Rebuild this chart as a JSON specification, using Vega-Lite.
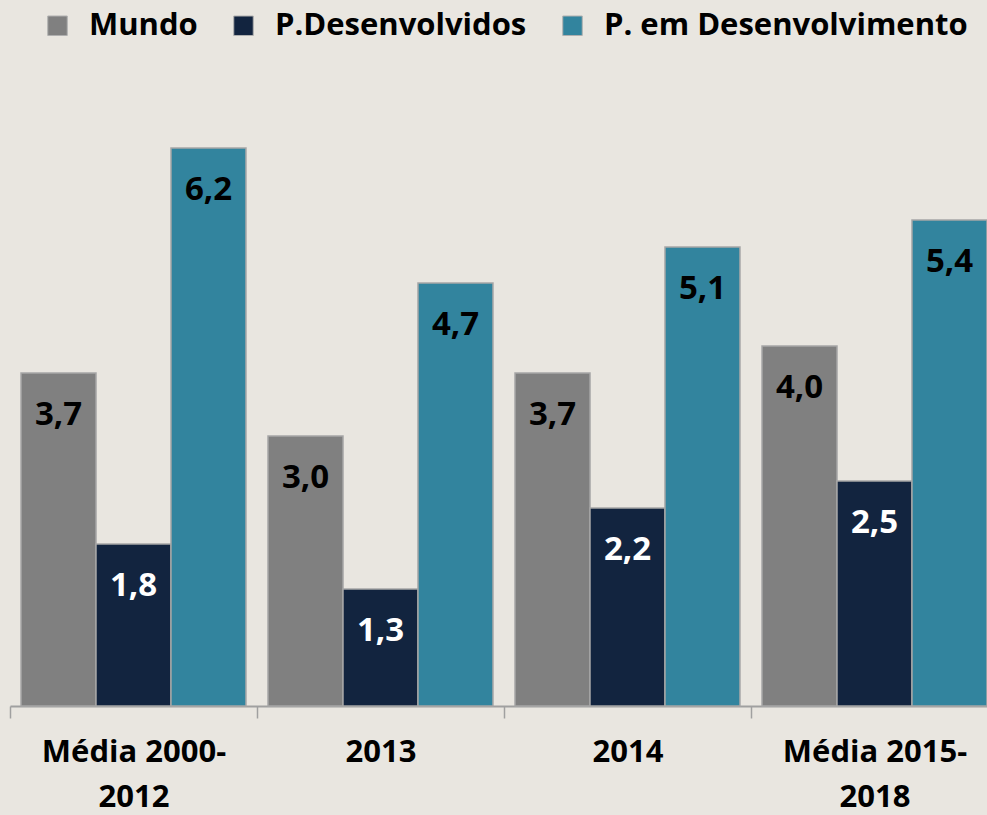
{
  "$schema": "https://vega.github.io/schema/vega-lite/v6.json",
  "width": 988,
  "height": 630,
  "autosize": "none",
  "padding": {"left": 10, "top": 76, "right": 0, "bottom": 109},
  "background": "#e9e6e0",
  "config": {
    "view": {"stroke": null},
    "font": "Open Sans"
  },
  "data": {
    "values": [
      {"grupo": "Média 2000-2012", "serie": "Mundo", "valor": 3.7, "rotulo": "3,7"},
      {"grupo": "Média 2000-2012", "serie": "P.Desenvolvidos", "valor": 1.8, "rotulo": "1,8"},
      {"grupo": "Média 2000-2012", "serie": "P. em Desenvolvimento", "valor": 6.2, "rotulo": "6,2"},
      {"grupo": "2013", "serie": "Mundo", "valor": 3.0, "rotulo": "3,0"},
      {"grupo": "2013", "serie": "P.Desenvolvidos", "valor": 1.3, "rotulo": "1,3"},
      {"grupo": "2013", "serie": "P. em Desenvolvimento", "valor": 4.7, "rotulo": "4,7"},
      {"grupo": "2014", "serie": "Mundo", "valor": 3.7, "rotulo": "3,7"},
      {"grupo": "2014", "serie": "P.Desenvolvidos", "valor": 2.2, "rotulo": "2,2"},
      {"grupo": "2014", "serie": "P. em Desenvolvimento", "valor": 5.1, "rotulo": "5,1"},
      {"grupo": "Média 2015-2018", "serie": "Mundo", "valor": 4.0, "rotulo": "4,0"},
      {"grupo": "Média 2015-2018", "serie": "P.Desenvolvidos", "valor": 2.5, "rotulo": "2,5"},
      {"grupo": "Média 2015-2018", "serie": "P. em Desenvolvimento", "valor": 5.4, "rotulo": "5,4"}
    ]
  },
  "encoding": {
    "x": {
      "field": "grupo",
      "type": "nominal",
      "sort": ["Média 2000-2012", "2013", "2014", "Média 2015-2018"],
      "scale": {"paddingInner": 0, "paddingOuter": 0},
      "axis": {
        "title": null,
        "labelAngle": 0,
        "labelFont": "Open Sans",
        "labelFontWeight": "bold",
        "labelFontSize": 31,
        "labelColor": "#000000",
        "labelLineHeight": 45,
        "labelPadding": 19,
        "labelLimit": 400,
        "labelExpr": "datum.value == 'Média 2000-2012' ? ['Média 2000-', '2012'] : datum.value == 'Média 2015-2018' ? ['Média 2015-', '2018'] : datum.value",
        "tickBand": "extent",
        "tickSize": 12,
        "tickColor": "#a0a0a0",
        "tickWidth": 1.5,
        "domainColor": "#a0a0a0",
        "domainWidth": 2,
        "labelBound": false,
        "labelOverlap": false
      }
    },
    "xOffset": {
      "field": "serie",
      "type": "nominal",
      "sort": ["Mundo", "P.Desenvolvidos", "P. em Desenvolvimento"],
      "scale": {"paddingInner": 0, "paddingOuter": 0.147}
    },
    "y": {
      "field": "valor",
      "type": "quantitative",
      "scale": {"domain": [0, 7], "nice": false},
      "axis": null
    }
  },
  "layer": [
    {
      "mark": {"type": "bar", "stroke": "#a6a6a6", "strokeWidth": 1.5},
      "encoding": {
        "color": {
          "field": "serie",
          "type": "nominal",
          "sort": ["Mundo", "P.Desenvolvidos", "P. em Desenvolvimento"],
          "scale": {
            "domain": ["Mundo", "P.Desenvolvidos", "P. em Desenvolvimento"],
            "range": ["#808080", "#12243f", "#32849e"]
          },
          "legend": {
            "title": null,
            "orient": "none",
            "direction": "horizontal",
            "legendX": 32,
            "legendY": -66,
            "symbolType": "square",
            "symbolSize": 380,
            "symbolStrokeColor": "#b0b0b0",
            "symbolStrokeWidth": 1,
            "labelFont": "Open Sans",
            "labelFontWeight": "bold",
            "labelFontSize": 31,
            "labelColor": "#000000",
            "labelOffset": 16,
            "columnPadding": 30,
            "labelLimit": 500
          }
        }
      }
    },
    {
      "mark": {
        "type": "text",
        "dy": 42,
        "font": "Open Sans",
        "fontWeight": "bold",
        "fontSize": 33,
        "baseline": "middle"
      },
      "encoding": {
        "text": {"field": "rotulo"},
        "color": {
          "condition": {"test": "datum.serie == 'P.Desenvolvidos'", "value": "#ffffff"},
          "value": "#000000"
        }
      }
    }
  ]
}
